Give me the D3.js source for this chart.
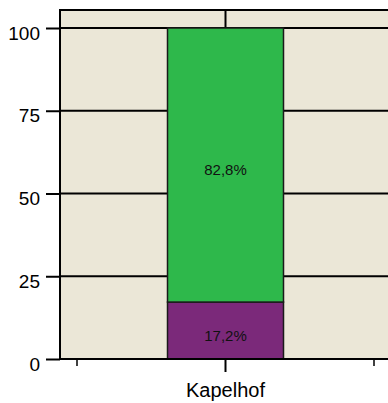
<!DOCTYPE html>
<html><head><meta charset="utf-8">
<script src="https://cdn.jsdelivr.net/npm/d3@7"></script>
<style>body{margin:0;background:#fff}svg{display:block}text{font-family:"Liberation Sans",Arial,Helvetica,sans-serif}</style>
</head><body>
<script>
const categories = ["Kapelhof"];
const seriesNames = ["lower", "upper"];
const lowerValues = [17.2];
const upperValues = [82.8];
const yTicks = [0, 25, 50, 75, 100];
const colors = ["#7B297A", "#2EB84B"];

const W = 388, H = 403;
const mLeft = 60, mTop = 10, mBottom = 359;
const svg = d3.select("body").append("svg").attr("width", W).attr("height", H);

const y = d3.scaleLinear().domain([0, 100]).range([mBottom, 28]);
const x = d3.scaleLinear().domain([-1, 1]).range([77, 374]);
const barW = 116;

// plot background
svg.append("rect").attr("x", mLeft).attr("y", mTop).attr("width", W - mLeft + 5).attr("height", mBottom - mTop).attr("fill", "#EBE7D7");

// gridlines
svg.selectAll("line.grid").data(yTicks.filter(d => d > 0)).join("line")
  .attr("x1", mLeft).attr("x2", W + 5).attr("y1", d => y(d)).attr("y2", d => y(d))
  .attr("stroke", "#000").attr("stroke-width", 2);

// top vertical tick
svg.append("line").attr("x1", x(0)).attr("x2", x(0)).attr("y1", mTop).attr("y2", y(100)).attr("stroke", "#000").attr("stroke-width", 2);

// stacked bars
const stackData = categories.map((c, i) => ({cat: c, lower: lowerValues[i], upper: upperValues[i]}));
const stacked = d3.stack().keys(seriesNames)(stackData);
stacked.forEach((s, si) => {
  s.forEach((d, i) => {
    const x0 = x(0) - barW / 2;
    svg.append("rect").attr("x", x0).attr("y", y(d[1])).attr("width", barW).attr("height", y(d[0]) - y(d[1]))
      .attr("fill", colors[si]).attr("stroke", "#1a1a1a").attr("stroke-width", 1.5);
    svg.append("text").attr("x", x(0)).attr("y", (y(d[0]) + y(d[1])) / 2 + 10)
      .attr("text-anchor", "middle").attr("font-size", 15).attr("fill", "#111")
      .text(String((d[1] - d[0]).toFixed(1)).replace(".", ",") + "%");
  });
});

// frame: top, left, bottom
svg.append("line").attr("x1", mLeft).attr("x2", W + 5).attr("y1", mTop).attr("y2", mTop).attr("stroke", "#000").attr("stroke-width", 2);
svg.append("line").attr("x1", mLeft).attr("x2", mLeft).attr("y1", mTop - 1).attr("y2", mBottom + 1).attr("stroke", "#000").attr("stroke-width", 2);
svg.append("line").attr("x1", mLeft).attr("x2", W + 5).attr("y1", mBottom).attr("y2", mBottom).attr("stroke", "#000").attr("stroke-width", 2);

// y axis
const yAxis = d3.axisLeft(y).tickValues(yTicks).tickSize(14).tickPadding(6);
const gy = svg.append("g").attr("transform", `translate(${mLeft},0)`).call(yAxis);
gy.select(".domain").remove();
gy.selectAll(".tick line").attr("stroke-width", 2);
gy.selectAll(".tick text").attr("font-size", 19).attr("fill", "#000")
  .attr("font-family", "'Liberation Sans',Arial,sans-serif").attr("dy", null).attr("y", 11);

// x axis ticks
svg.selectAll("line.xminor").data([-1, 1]).join("line")
  .attr("x1", d => x(d)).attr("x2", d => x(d)).attr("y1", mBottom).attr("y2", mBottom + 7)
  .attr("stroke", "#000").attr("stroke-width", 1.5);
svg.append("line").attr("x1", x(0)).attr("x2", x(0)).attr("y1", mBottom).attr("y2", mBottom + 13)
  .attr("stroke", "#000").attr("stroke-width", 2);
svg.append("text").attr("x", x(0)).attr("y", 397).attr("text-anchor", "middle").attr("font-size", 20).attr("fill", "#000").text(categories[0]);
</script>
</body></html>
